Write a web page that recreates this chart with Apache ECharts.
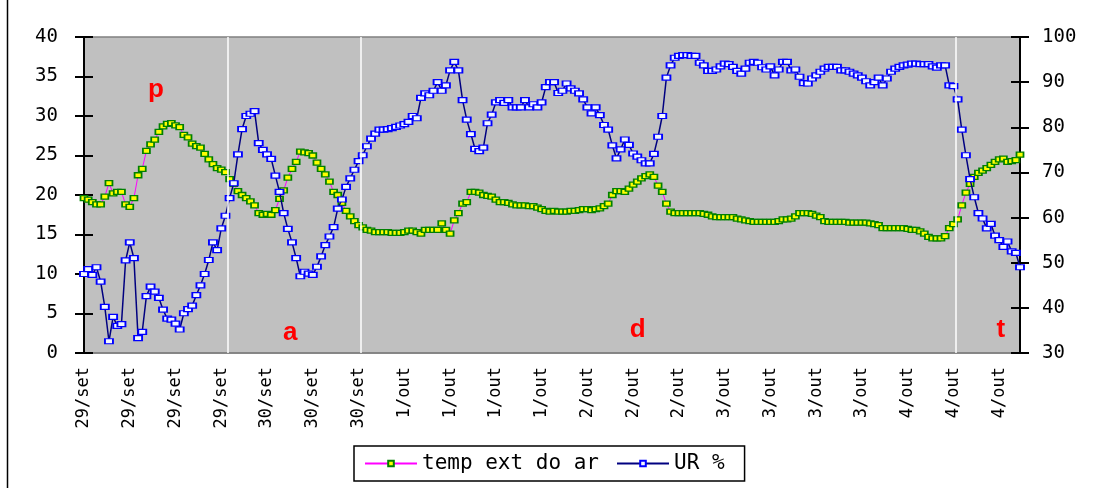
<!DOCTYPE html>
<html>
<head>
<meta charset="utf-8">
<script src="https://cdn.jsdelivr.net/npm/echarts@6/dist/echarts.min.js"></script>
<style>
  html, body { margin: 0; padding: 0; background: #ffffff; }
  #chart { width: 1107px; height: 488px; }
</style>
</head>
<body>
<div id="chart"></div>
<script>
// Tick labels shown along the time axis (one every LABEL_STEP readings)
const tickLabels = [
  '29/set', '29/set', '29/set', '29/set',
  '30/set', '30/set', '30/set',
  '1/out', '1/out', '1/out', '1/out',
  '2/out', '2/out', '2/out',
  '3/out', '3/out', '3/out', '3/out',
  '4/out', '4/out', '4/out'
];
const LABEL_STEP = 11;

// Outside air temperature (°C), left axis
const tempExt = [
  19.6, 19.4, 19.1, 18.8, 18.8, 19.8, 21.5, 20.2, 20.4, 20.4,
  18.8, 18.5, 19.6, 22.5, 23.3, 25.6, 26.4, 27.0, 28.0, 28.7,
  29.0, 29.1, 28.8, 28.6, 27.6, 27.3, 26.5, 26.2, 26.0, 25.2,
  24.5, 23.9, 23.4, 23.2, 22.9, 22.0, 21.4, 20.5, 20.0, 19.6,
  19.2, 18.7, 17.7, 17.5, 17.6, 17.5, 18.1, 19.5, 20.6, 22.2,
  23.3, 24.2, 25.5, 25.4, 25.3, 25.0, 24.1, 23.3, 22.6, 21.7,
  20.4, 20.0, 19.0, 18.0, 17.3, 16.7, 16.2, 15.9, 15.6, 15.5,
  15.3, 15.3, 15.3, 15.3, 15.2, 15.2, 15.2, 15.3, 15.5, 15.5,
  15.3, 15.1, 15.6, 15.6, 15.6, 15.6, 16.4, 15.6, 15.1, 16.8,
  17.7, 18.9, 19.1, 20.4, 20.4, 20.3, 20.0, 19.9, 19.8, 19.4,
  19.1, 19.1, 19.0, 18.8, 18.7, 18.7, 18.7, 18.6, 18.6, 18.4,
  18.2, 18.0, 17.9, 18.0, 17.9, 17.9, 17.9, 18.0, 18.0, 18.1,
  18.2, 18.2, 18.1, 18.2, 18.3, 18.6, 18.9, 20.0, 20.5, 20.5,
  20.4, 20.8, 21.3, 21.7, 22.1, 22.4, 22.6, 22.3, 21.2, 20.4,
  18.9, 17.9, 17.7, 17.7, 17.7, 17.7, 17.7, 17.7, 17.7, 17.6,
  17.5, 17.3, 17.2, 17.2, 17.2, 17.2, 17.2, 17.0, 16.9, 16.8,
  16.7, 16.6, 16.6, 16.6, 16.6, 16.6, 16.6, 16.7, 16.9, 16.9,
  17.0, 17.3, 17.7, 17.7, 17.7, 17.6, 17.4, 17.2, 16.7, 16.6,
  16.6, 16.6, 16.6, 16.6, 16.5, 16.5, 16.5, 16.5, 16.5, 16.4,
  16.3, 16.2, 15.8, 15.8, 15.8, 15.8, 15.8, 15.8, 15.7, 15.6,
  15.6, 15.4, 15.1, 14.7, 14.5, 14.5, 14.5, 14.8, 15.8, 16.3,
  16.9, 18.7, 20.3, 21.4, 22.3, 22.8, 23.1, 23.4, 23.8, 24.2,
  24.5, 24.6, 24.2, 24.3, 24.4, 25.1
];

// Relative humidity (%), right axis
const urPct = [
  47.5, 48.6, 47.3, 49.0, 45.8, 40.2, 32.6, 38.0, 36.0, 36.4,
  50.5, 54.5, 51.0, 33.3, 34.7, 42.6, 44.7, 43.6, 42.2, 39.6,
  37.6, 37.4, 36.5, 35.2, 38.8, 39.7, 40.5, 42.8, 45.0, 47.5,
  50.6, 54.5, 52.8, 57.6, 60.4, 64.3, 67.6, 74.0, 79.6, 82.5,
  83.0, 83.6, 76.5, 75.0, 74.0, 73.0, 69.3, 65.7, 61.0, 57.5,
  54.5, 51.0, 47.0, 48.0, 47.6, 47.3, 49.1, 51.4, 53.9, 55.8,
  57.9, 62.0, 64.0, 66.8, 68.7, 70.6, 72.5, 73.8, 75.8, 77.5,
  78.6, 79.5, 79.5, 79.6, 79.8, 80.1, 80.4, 80.7, 81.2, 82.5,
  82.0, 86.5, 87.5, 87.1, 88.1, 90.0, 88.1, 89.3, 92.6, 94.5,
  92.6, 86.0, 81.7, 78.5, 75.2, 74.7, 75.5, 80.9, 82.8, 85.5,
  86.0, 85.4, 86.0, 84.4, 84.4, 84.4, 86.0, 84.4, 85.1, 84.4,
  85.5, 88.9, 90.0, 90.0, 87.6, 88.1, 89.7, 88.6, 88.1, 87.5,
  86.2, 84.4, 83.1, 84.4, 82.7, 80.5, 79.5, 76.0, 73.1, 75.1,
  77.3, 76.1, 74.2, 73.5, 72.7, 72.0, 72.0, 74.1, 77.9, 82.5,
  91.0, 93.7, 95.4, 95.8, 96.0, 96.0, 95.8, 95.8, 94.3, 93.7,
  92.5, 92.5, 92.8, 93.5, 94.1, 94.0, 93.4, 92.5, 91.9, 93.0,
  94.3, 94.5, 94.3, 93.3, 92.8, 93.5, 91.5, 92.8, 94.5, 94.5,
  92.6, 92.8, 91.2, 89.8, 89.7, 90.8, 91.5, 92.3, 93.0, 93.4,
  93.4, 93.4, 92.6, 92.6, 92.3, 91.9, 91.5, 91.0, 90.2, 89.3,
  90.0, 91.0, 89.3, 90.8, 92.3, 93.0, 93.4, 93.7, 93.9, 94.1,
  94.1, 94.0, 94.0, 94.0, 93.5, 93.2, 93.7, 93.7, 89.3, 89.1,
  86.2, 79.5, 73.8, 68.5, 64.5, 61.0, 59.8, 57.6, 58.6, 56.0,
  55.0, 53.5, 54.7, 52.5, 52.2, 49.0
];

// Period separators (reading index) and period letters (reading index, °C)
const periodBreaks = [34.5, 66.6, 209.6];
const periodNames = ['p', 'a', 'd', 't'];
const periodNameAt = [[17.3, 33.3], [49.6, 2.6], [133.1, 2.9], [220.4, 2.9]];

const categories = tempExt.map((_, i) => (i % LABEL_STEP === 0 ? tickLabels[i / LABEL_STEP] : ''));

const MONO = '"DejaVu Sans Mono", monospace';
const chart = echarts.init(document.getElementById('chart'), null, { renderer: 'canvas' });

function valueAxis(min, max, step, side, outer) {
  return {
    type: 'value', min: min, max: max, interval: step, position: side,
    axisLine: { show: outer, lineStyle: { color: '#000000', width: 2 } },
    axisTick: { show: true, inside: !outer, length: 9, lineStyle: { color: '#000000', width: 2 } },
    axisLabel: outer
      ? { show: true, margin: side === 'left' ? 26 : 22, color: '#000000', fontFamily: MONO, fontSize: 19 }
      : { show: false },
    splitLine: { show: false }
  };
}

chart.setOption({
  animation: false,
  backgroundColor: '#ffffff',
  grid: {
    left: 84, right: 87, top: 37, bottom: 135,
    show: true, backgroundColor: '#c0c0c0', borderColor: '#808080', borderWidth: 1.5
  },
  legend: {
    data: ['temp ext do ar', 'UR %'],
    left: 354, top: 446,
    backgroundColor: '#ffffff', borderColor: '#000000', borderWidth: 1.5,
    padding: [7, 20, 7, 10],
    itemWidth: 52, itemHeight: 7, itemGap: 17,
    textStyle: { color: '#000000', fontFamily: MONO, fontSize: 21 }
  },
  xAxis: [
    {
      type: 'category', data: categories, boundaryGap: false,
      axisLine: { show: true, lineStyle: { color: '#808080', width: 1.5 } },
      axisTick: { show: false },
      axisLabel: { interval: LABEL_STEP - 1, rotate: 90, margin: 14, color: '#000000', fontFamily: MONO, fontSize: 17 },
      splitLine: { show: false }
    },
    { type: 'value', min: 0, max: tempExt.length - 1, show: false }
  ],
  yAxis: [
    valueAxis(0, 40, 5, 'left', true),
    valueAxis(30, 100, 10, 'right', true),
    valueAxis(0, 40, 5, 'left', false),
    valueAxis(30, 100, 10, 'right', false)
  ],
  series: [
    {
      name: 'periods', type: 'line', data: [], xAxisIndex: 1, yAxisIndex: 0, z: 1,
      markLine: {
        silent: true, symbol: 'none', label: { show: false },
        lineStyle: { color: '#ffffff', width: 1.5, type: 'solid' },
        data: periodBreaks.map(v => ({ xAxis: v }))
      }
    },
    {
      name: 'temp ext do ar', type: 'line', data: tempExt, xAxisIndex: 0, yAxisIndex: 0, z: 3,
      symbol: 'rect', symbolSize: [7, 5], showAllSymbol: true,
      lineStyle: { color: '#ff00ff', width: 1 },
      itemStyle: { color: '#ffff00', borderColor: '#008000', borderWidth: 1.5 }
    },
    {
      name: 'UR %', type: 'line', data: urPct, xAxisIndex: 0, yAxisIndex: 1, z: 4,
      symbol: 'rect', symbolSize: [8, 5], showAllSymbol: true,
      lineStyle: { color: '#000080', width: 1.5 },
      itemStyle: { color: '#f4f8ff', borderColor: '#0000ff', borderWidth: 1.5 }
    }
  ]
});

// Period letters placed in data space, plus the frame edge on the left
const letters = periodNames.map((name, k) => {
  const p = chart.convertToPixel({ xAxisIndex: 1, yAxisIndex: 0 }, periodNameAt[k]);
  return {
    type: 'text', x: p[0], y: p[1], z: 10, silent: true,
    style: {
      text: name, fill: '#ff0000', align: 'center', verticalAlign: 'middle',
      font: 'bold 26px "Liberation Sans", Arial, sans-serif'
    }
  };
});
chart.setOption({
  graphic: letters.concat([
    { type: 'line', silent: true, shape: { x1: 7.5, y1: 0, x2: 7.5, y2: 488 }, style: { stroke: '#000000', lineWidth: 1.5 } }
  ])
});
</script>
</body>
</html>
